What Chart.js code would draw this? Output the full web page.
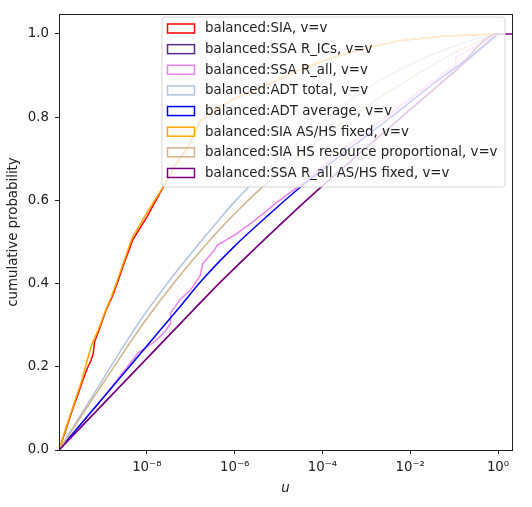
<!DOCTYPE html>
<html lang="en">
<head>
<meta charset="UTF-8">
<title>cumulative probability</title>
<style>
  * { margin: 0; padding: 0; }
  body { background: #fff; }
  .chartBox { width: 532px; height: 507px; }
</style>
</head>
<body>
<div class="chartBox"><canvas id="myChart"></canvas></div>
<script src="https://cdn.jsdelivr.net/npm/chart.js"></script>
<script>
// series names (legend order) and colours
const seriesNames = [
  'balanced:SIA, v=v',
  'balanced:SSA R_ICs, v=v',
  'balanced:SSA R_all, v=v',
  'balanced:ADT total, v=v',
  'balanced:ADT average, v=v',
  'balanced:SIA AS/HS fixed, v=v',
  'balanced:SIA HS resource proportional, v=v',
  'balanced:SSA R_all AS/HS fixed, v=v'
];
const seriesColors = ['#ff0000', '#5a2a8c', '#ee82ee', '#b0c4de', '#0000ff', '#ffa500', '#d2b48c', '#800080'];
// jagged curves are drawn as plain segments, smooth ones with monotone splines
const seriesSmooth = [false, true, false, true, true, false, true, true];

// values: log10(u) and cumulative probability
const sia_logu = [-10, -9.84, -9.7, -9.58, -9.46, -9.34, -9.27, -9.22, -9.19, -9.08, -8.94, -8.78, -8.66, -8.48, -8.32, -8.0, -7.66, -7.35, -7.05, -6.79, -6.4, -6.0, -5.27, -4.5, -3.76, -3.0, -2.24, -1.2, 0];
const sia_p    = [0, 0.05, 0.095, 0.13, 0.167, 0.2, 0.215, 0.232, 0.26, 0.29, 0.333, 0.37, 0.405, 0.46, 0.505, 0.56, 0.625, 0.685, 0.73, 0.79, 0.82, 0.845, 0.877, 0.915, 0.944, 0.966, 0.984, 0.995, 1];

const ssaIcs_logu = [-10, -9, -8, -7, -6.31, -5, -4.125, -3, -2, -1, 0];
const ssaIcs_p    = [0, 0.11, 0.22, 0.33, 0.405, 0.538, 0.623, 0.727, 0.818, 0.909, 1];

const ssaAll_logu = [-10, -9, -8.19, -7.8, -7.58, -7.47, -7.46, -7.24, -7.0, -6.78, -6.73, -6.45, -6.4, -5.95, -5.49, -5.04, -4.73, -4.5, -3.5, -2.5, -1.5, -0.98, -0.96, -0.5, 0];
const ssaAll_p    = [0, 0.125, 0.234, 0.262, 0.286, 0.302, 0.329, 0.362, 0.385, 0.42, 0.447, 0.482, 0.492, 0.52, 0.556, 0.595, 0.619, 0.637, 0.725, 0.805, 0.885, 0.925, 0.945, 0.97, 1];

const adtTotal_logu = [-10, -9, -8.19, -7.58, -7.05, -6.5, -6.0, -5.3, -4.5, -3.5, -2.5, -1.5, -0.6, 0];
const adtTotal_p    = [0, 0.17, 0.305, 0.394, 0.465, 0.535, 0.597, 0.67, 0.745, 0.83, 0.9, 0.95, 0.985, 1];

const adtAvg_logu = [-10, -9, -8, -7.24, -6.77, -6, -5.28, -4.58, -3.5, -2.5, -1.5, -0.7, 0];
const adtAvg_p    = [0, 0.125, 0.25, 0.345, 0.405, 0.49, 0.56, 0.625, 0.715, 0.795, 0.878, 0.94, 1];

const siaFixed_logu = [-10, -9.85, -9.71, -9.6, -9.48, -9.36, -9.25, -9.1, -8.95, -8.8, -8.68, -8.5, -8.34, -8.0, -7.66, -7.35, -7.05, -6.79, -6.4, -6.0, -5.27, -4.5, -3.76, -3.0, -2.24, -1.2, 0];
const siaFixed_p    = [0, 0.05, 0.095, 0.13, 0.167, 0.215, 0.254, 0.29, 0.333, 0.37, 0.405, 0.46, 0.508, 0.57, 0.627, 0.685, 0.73, 0.79, 0.82, 0.845, 0.877, 0.915, 0.944, 0.966, 0.984, 0.995, 1];

const siaProp_logu = [-10, -9, -8.04, -7.32, -6.5, -6.0, -5.42, -4.5, -3.5, -2.5, -1.5, -0.6, 0];
const siaProp_p    = [0, 0.16, 0.31, 0.41, 0.512, 0.568, 0.627, 0.71, 0.79, 0.86, 0.925, 0.975, 1];

const ssaFixed_logu = [-10, -9, -8, -7, -6.31, -5, -4.125, -3, -2, -1, 0, 0.318];
const ssaFixed_p    = [0, 0.11, 0.22, 0.33, 0.405, 0.538, 0.623, 0.727, 0.818, 0.909, 1, 1];

// ticks
const xTickValues = [1e-8, 1e-6, 1e-4, 1e-2, 1];
const xTickLabels = ['10\u207B\u2078', '10\u207B\u2076', '10\u207B\u2074', '10\u207B\u00B2', '10\u2070'];
const yTickValues = [0, 0.2, 0.4, 0.6, 0.8, 1.0];

const seriesLogU = [sia_logu, ssaIcs_logu, ssaAll_logu, adtTotal_logu, adtAvg_logu, siaFixed_logu, siaProp_logu, ssaFixed_logu];
const seriesP = [sia_p, ssaIcs_p, ssaAll_p, adtTotal_p, adtAvg_p, siaFixed_p, siaProp_p, ssaFixed_p];

const FONT = '"DejaVu Sans", sans-serif';
const FS = 13.33;
const TEXT = '#222';

const datasets = seriesNames.map((name, i) => ({
  label: name,
  data: seriesLogU[i].map((e, j) => ({ x: Math.pow(10, e), y: seriesP[i][j] })),
  borderColor: seriesColors[i],
  borderWidth: 1.5,
  pointRadius: 0,
  tension: 0,
  cubicInterpolationMode: seriesSmooth[i] ? 'monotone' : 'default',
  fill: false,
  order: seriesNames.length - i   // later series on top, like matplotlib
}));

// axes frame + legend drawn over the plot
const framePlugin = {
  id: 'frameAndLegend',
  afterDraw(chart) {
    const ctx = chart.ctx;
    const a = chart.chartArea;
    ctx.save();
    ctx.strokeStyle = '#222';
    ctx.lineWidth = 1;
    ctx.strokeRect(Math.round(a.left) + 0.5, Math.round(a.top) + 0.5,
                   Math.round(a.right - a.left), Math.round(a.bottom - a.top));

    // legend box
    const lx = 162, ly = 17, lw = 343, lh = 170, r = 3;
    ctx.beginPath();
    ctx.moveTo(lx + r, ly);
    ctx.arcTo(lx + lw, ly, lx + lw, ly + lh, r);
    ctx.arcTo(lx + lw, ly + lh, lx, ly + lh, r);
    ctx.arcTo(lx, ly + lh, lx, ly, r);
    ctx.arcTo(lx, ly, lx + lw, ly, r);
    ctx.closePath();
    ctx.fillStyle = 'rgba(255,255,255,0.8)';
    ctx.fill();
    ctx.strokeStyle = '#d6d6d6';
    ctx.lineWidth = 1;
    ctx.stroke();

    ctx.font = FS + 'px ' + FONT;
    ctx.textBaseline = 'middle';
    ctx.textAlign = 'left';
    seriesNames.forEach((name, i) => {
      const cy = 28.5 + i * 20.64;
      ctx.strokeStyle = seriesColors[i];
      ctx.lineWidth = 1.5;
      ctx.strokeRect(167.5, cy - 4.5, 27, 9);
      ctx.fillStyle = TEXT;
      ctx.fillText(name, 205, cy + 0.5);
    });
    ctx.restore();
  }
};

const config = {
  type: 'line',
  data: { datasets },
  options: {
    responsive: true,
    maintainAspectRatio: false,
    animation: false,
    layout: { padding: { top: 10, right: 20, left: 0, bottom: 0 } },
    plugins: { legend: { display: false }, tooltip: { enabled: false } },
    scales: {
      x: {
        type: 'logarithmic',
        min: 1e-10,
        max: 2.08,
        afterBuildTicks: (scale) => { scale.ticks = xTickValues.map(v => ({ value: v })); },
        afterFit: (scale) => { scale.height = 57; },
        border: { display: false },
        grid: { display: true, drawOnChartArea: false, drawTicks: true, tickLength: 4, tickColor: '#222', tickWidth: 1 },
        ticks: {
          autoSkip: false,
          maxRotation: 0,
          padding: 6,
          color: TEXT,
          font: { family: FONT, size: FS },
          callback: (v) => {
            const k = xTickValues.findIndex(t => Math.abs(Math.log10(t) - Math.log10(v)) < 1e-6);
            return k >= 0 ? xTickLabels[k] : '';
          }
        },
        title: { display: true, text: 'u', color: TEXT, font: { family: FONT, size: FS, style: 'italic' }, padding: { top: 0, bottom: 10 } }
      },
      y: {
        type: 'linear',
        min: 0,
        max: 1.048,
        afterBuildTicks: (scale) => { scale.ticks = yTickValues.map(v => ({ value: v })); },
        afterFit: (scale) => { scale.width = 59; },
        border: { display: false },
        grid: { display: true, drawOnChartArea: false, drawTicks: true, tickLength: 4, tickColor: '#222', tickWidth: 1 },
        ticks: {
          padding: 6,
          color: TEXT,
          font: { family: FONT, size: FS },
          callback: (v) => Number(v).toFixed(1)
        },
        title: { display: true, text: 'cumulative probability', color: TEXT, font: { family: FONT, size: FS }, padding: { top: 6, bottom: 0 } }
      }
    }
  },
  plugins: [framePlugin]
};

const myChart = new Chart(document.getElementById('myChart'), config);
</script>
</body>
</html>
